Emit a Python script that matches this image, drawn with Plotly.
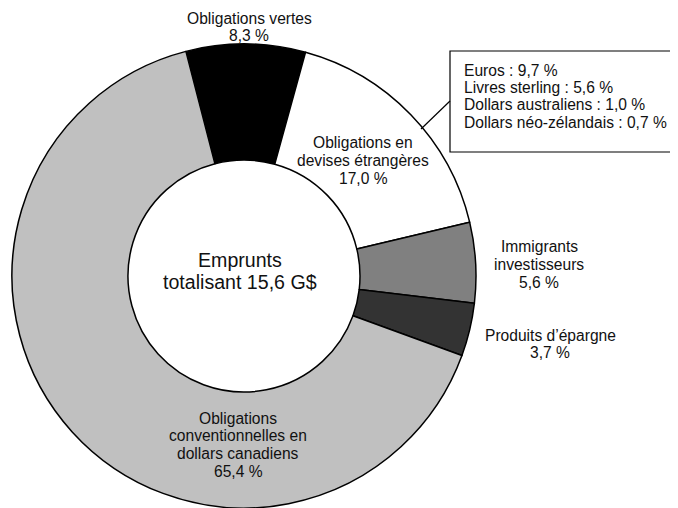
import plotly.graph_objects as go

# ---------------- data ----------------
slice_names = [
    "Obligations vertes",
    "Obligations en devises étrangères",
    "Immigrants investisseurs",
    "Produits d’épargne",
    "Obligations conventionnelles en dollars canadiens",
]
slice_label_lines = [
    ["Obligations vertes"],
    ["Obligations en", "devises étrangères"],
    ["Immigrants", "investisseurs"],
    ["Produits d’épargne"],
    ["Obligations", "conventionnelles en", "dollars canadiens"],
]
slice_values = [8.3, 17.0, 5.6, 3.7, 65.4]
slice_colors = ["#000000", "#ffffff", "#808080", "#333333", "#c0c0c0"]

currency_names = ["Euros", "Livres sterling", "Dollars australiens", "Dollars néo-zélandais"]
currency_values = [9.7, 5.6, 1.0, 0.7]

center_lines = ["Emprunts", "totalisant 15,6 G$"]

# ---------------- layout helpers ----------------
# the page body has a default 8px margin, so the figure is offset by 8px
OFF = 8
W, H = 678 - OFF, 508 - OFF
FONT = "Liberation Sans, Arial, sans-serif"
TXT = "#111111"
LABEL_SIZE = 15.6


def px(x):
    return (x - OFF) / W


def py(y):
    return 1 - (y - OFF) / H


def fmt(v):
    return f"{v:.1f}".replace(".", ",") + " %"


annotations = []


def add_lines(lines, x, y0, step, size=LABEL_SIZE, anchor="center"):
    for i, line in enumerate(lines):
        annotations.append(dict(
            text=line, x=px(x), y=py(y0 + i * step), xref="paper", yref="paper",
            xanchor=anchor, yanchor="middle", showarrow=False,
            font=dict(family=FONT, size=size, color=TXT),
        ))


fig = go.Figure(go.Pie(
    labels=slice_names,
    values=slice_values,
    marker=dict(colors=slice_colors, line=dict(color="#000000", width=1.5)),
    hole=0.5,
    sort=False,
    direction="clockwise",
    rotation=-14.5,
    textinfo="none",
    hoverinfo="label+value",
    showlegend=False,
    domain=dict(x=[px(12), px(476)], y=[py(508), py(44)]),
))

# slice labels: (x center, first-line y, line step)
label_pos = [
    (249, 18, 17.5),
    (363, 142, 18),
    (539, 246, 18.3),
    (550, 335, 17.5),
    (238, 418, 17.7),
]
for lines, val, (lx, ly, st) in zip(slice_label_lines, slice_values, label_pos):
    add_lines(lines + [fmt(val)], lx, ly, st)

# center text
add_lines(center_lines, 240, 260, 21.5, size=19.6)

# currency breakdown box
box_lines = [f"{n} : {fmt(v)}" for n, v in zip(currency_names, currency_values)]
add_lines(box_lines, 462, 70, 17.4, anchor="left")

shapes = [
    dict(type="line", xref="paper", yref="paper",
         x0=px(421), y0=py(129), x1=px(450), y1=py(101),
         line=dict(color="#000000", width=1.2)),
    dict(type="rect", xref="paper", yref="paper",
         x0=px(450), y0=py(51), x1=px(676.5), y1=py(152),
         line=dict(color="#000000", width=1.2), fillcolor="rgba(0,0,0,0)"),
]

fig.update_layout(
    width=W, height=H,
    margin=dict(l=0, r=0, t=0, b=0),
    paper_bgcolor="#ffffff",
    plot_bgcolor="#ffffff",
    annotations=annotations,
    shapes=shapes,
    showlegend=False,
)

fig.write_html("out.html")
